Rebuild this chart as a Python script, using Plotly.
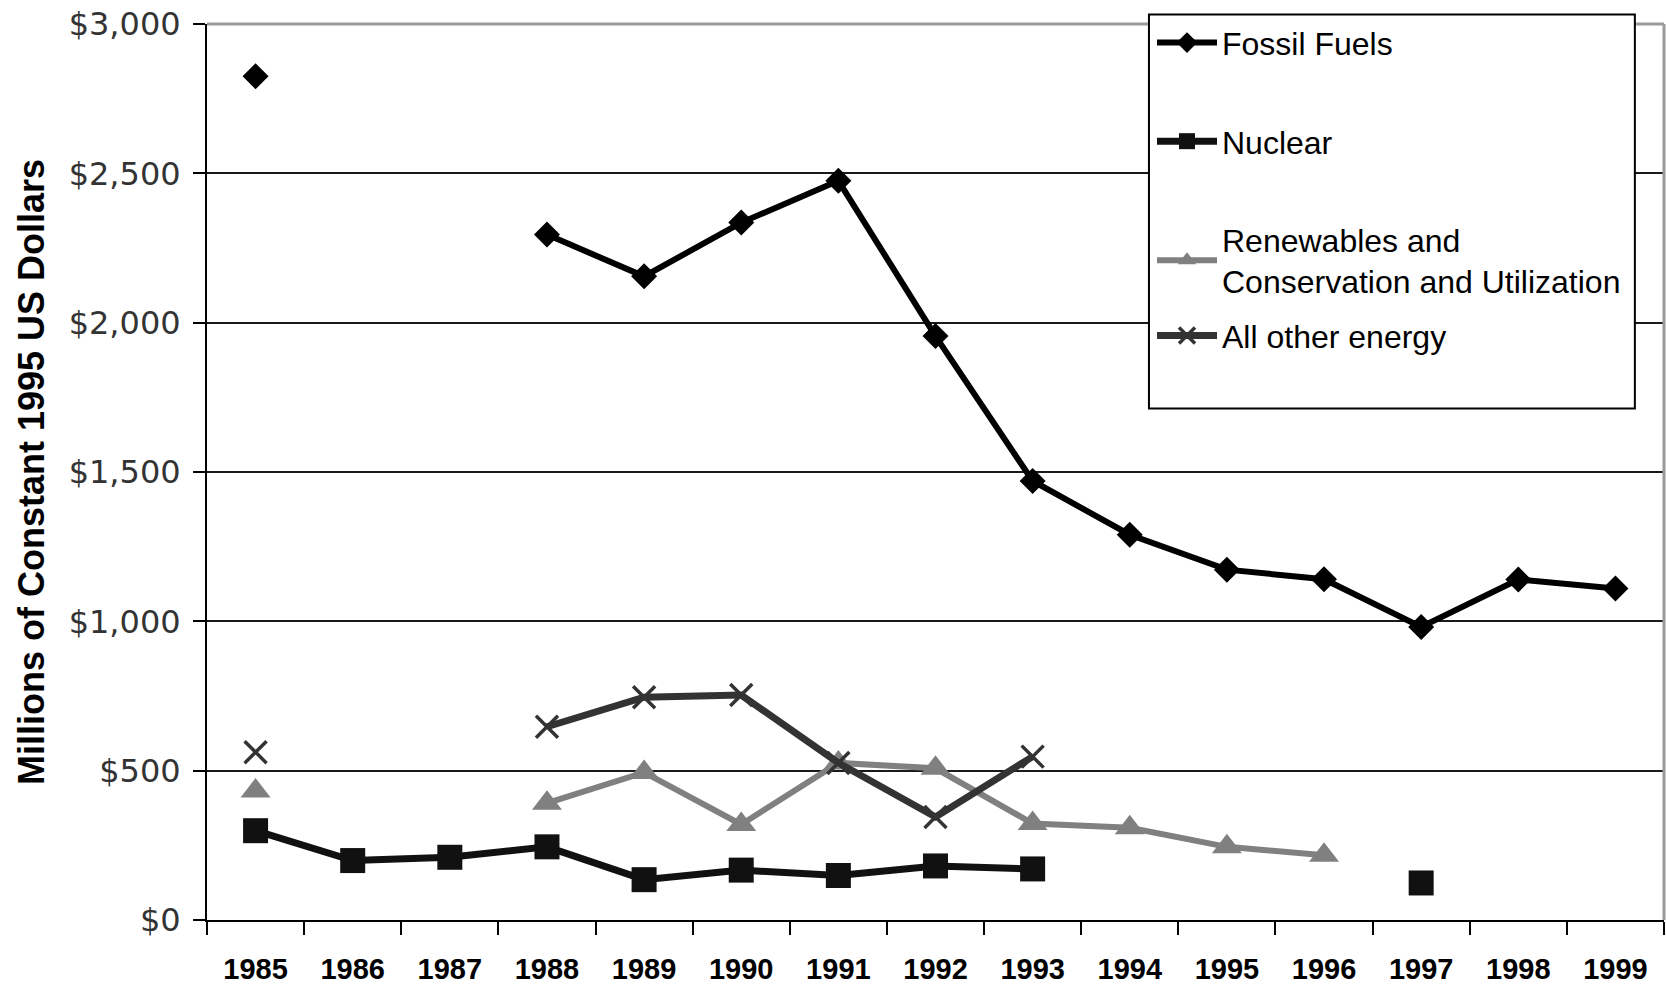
import plotly.graph_objects as go

years = [str(y) for y in range(1985, 2000)]

fossil_fuels = [2825, None, None, 2295, 2155, 2335, 2475, 1955, 1470, 1290, 1173, 1141, 981, 1140, 1110]
nuclear = [299, 199, 210, 245, 135, 167, 149, 181, 171, None, None, None, 124, None, None]
renewables = [432, None, None, 391, 494, 320, 526, 508, 323, 309, 245, 217, None, None, None]
all_other = [562, None, None, 647, 746, 753, 526, 345, 547, None, None, None, None, None, None]

series_names = ["Fossil Fuels", "Nuclear", "Renewables and<br>Conservation and Utilization", "All other energy"]

FONT = "Liberation Sans, Arial, sans-serif"

fig = go.Figure()

fig.add_trace(go.Scatter(
    x=years, y=fossil_fuels, name=series_names[0], mode="lines+markers",
    line=dict(color="#000000", width=6),
    marker=dict(symbol="diamond", size=20, color="#000000"),
    connectgaps=False, legend="legend",
))
fig.add_trace(go.Scatter(
    x=years, y=nuclear, name=series_names[1], mode="lines+markers",
    line=dict(color="#111111", width=7),
    marker=dict(symbol="square", size=25, color="#111111"),
    connectgaps=False, legend="legend2",
))
fig.add_trace(go.Scatter(
    x=years, y=renewables, name=series_names[2], mode="lines+markers",
    line=dict(color="#808080", width=6),
    marker=dict(symbol="triangle-up", size=26, color="#808080"),
    connectgaps=False, legend="legend3",
))
fig.add_trace(go.Scatter(
    x=years, y=all_other, name=series_names[3], mode="lines+markers",
    line=dict(color="#333333", width=7),
    marker=dict(symbol="x-thin", size=22, color="#333333",
                line=dict(color="#333333", width=3.5)),
    connectgaps=False, legend="legend4",
))

def leg(y):
    return dict(
        x=0.6486, y=y, xanchor="left", yanchor="middle",
        bgcolor="rgba(0,0,0,0)", borderwidth=0,
        font=dict(family=FONT, size=32, color="#000000"),
        itemwidth=60, itemclick=False, itemdoubleclick=False,
    )

fig.update_layout(
    width=1666, height=987,
    margin=dict(l=207, r=2, t=24, b=67),
    paper_bgcolor="white", plot_bgcolor="white",
    showlegend=True,
    legend=leg(0.9790),
    legend2=leg(0.8690),
    legend3=leg(0.7360),
    legend4=leg(0.6520),
    xaxis=dict(
        type="category", range=[-0.5, 14.5],
        showgrid=False, showline=True, linecolor="#000000", linewidth=2,
        ticks="outside", tickson="boundaries", ticklen=13, tickwidth=2, tickcolor="#000000",
        tickfont=dict(family=FONT, size=29, color="#000000", weight="bold"),
        ticklabelstandoff=22,
    ),
    yaxis=dict(
        range=[0, 3000], dtick=500, tickprefix="$", tickformat=",",
        showgrid=True, gridcolor="#1a1a1a", gridwidth=2,
        showline=True, linecolor="#000000", linewidth=2,
        ticks="outside", ticklen=12, tickwidth=2, tickcolor="#000000",
        tickfont=dict(family="DejaVu Sans, sans-serif", size=32, color="#333333"),
        ticklabelstandoff=6,
        zeroline=False,
        title=dict(text="Millions of Constant 1995 US Dollars",
                   font=dict(family=FONT, size=36, color="#000000", weight="bold"),
                   standoff=13),
    ),
    shapes=[
        dict(type="line", xref="paper", yref="paper", x0=0, x1=1, y0=1, y1=1,
             line=dict(color="#9a9a9a", width=3), layer="above"),
        dict(type="line", xref="paper", yref="paper", x0=1, x1=1, y0=0, y1=1,
             line=dict(color="#9a9a9a", width=3), layer="above"),
        dict(type="rect", xref="paper", yref="paper", x0=0.6465, x1=0.980, y0=0.5709, y1=1.0106,
             line=dict(color="#000000", width=2), fillcolor="white", layer="above"),
    ],
)

fig.write_html("out.html", config={"displayModeBar": False},
               post_script="document.body.style.margin='0';")
